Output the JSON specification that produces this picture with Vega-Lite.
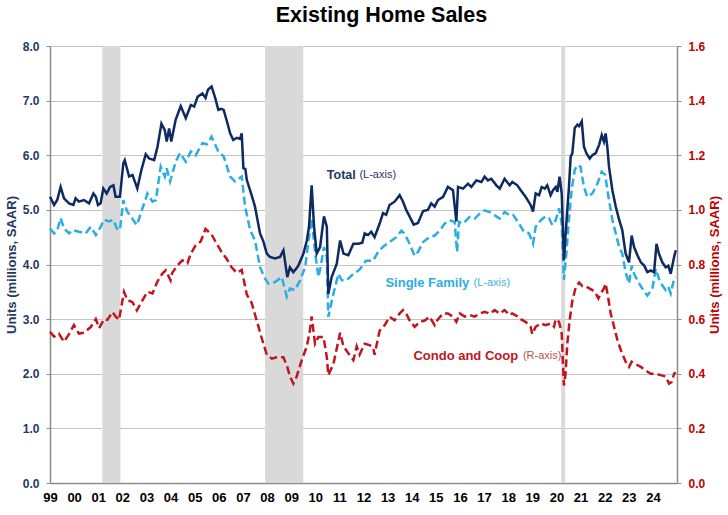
{
  "$schema": "https://vega.github.io/schema/vega-lite/v6.json",
  "autosize": {"type": "none"},
  "width": 627,
  "height": 437,
  "padding": {"left": 50, "top": 46, "right": 51, "bottom": 32},
  "background": "white",
  "config": {"font": "Liberation Sans", "view": {"stroke": null}},
  "title": {"text": "Existing Home Sales", "fontSize": 21.5, "fontWeight": "bold", "color": "#000000", "font": "Liberation Sans", "offset": 14, "dx": 18},
  "datasets": {
    "recessions": [
      {"t": 2001.17, "t2": 2001.92},
      {"t": 2007.92, "t2": 2009.5},
      {"t": 2020.2, "t2": 2020.36}
    ],
    "total": [
      {"t":1999.00,"v":5.24},{"t":1999.17,"v":5.09},{"t":1999.30,"v":5.18},{"t":1999.44,"v":5.42},{"t":1999.58,"v":5.21},{"t":1999.79,"v":5.12},{"t":1999.97,"v":5.09},
      {"t":2000.06,"v":5.21},{"t":2000.20,"v":5.15},{"t":2000.41,"v":5.18},{"t":2000.62,"v":5.12},{"t":2000.80,"v":5.30},{"t":2000.90,"v":5.24},{"t":2000.99,"v":5.09},
      {"t":2001.10,"v":5.12},{"t":2001.21,"v":5.39},{"t":2001.35,"v":5.30},{"t":2001.49,"v":5.42},{"t":2001.63,"v":5.45},{"t":2001.72,"v":5.24},{"t":2001.90,"v":5.24},
      {"t":2002.04,"v":5.85},{"t":2002.10,"v":5.91},{"t":2002.28,"v":5.61},{"t":2002.42,"v":5.64},{"t":2002.62,"v":5.39},{"t":2002.79,"v":5.73},{"t":2002.97,"v":6.02},
      {"t":2003.11,"v":5.94},{"t":2003.32,"v":5.91},{"t":2003.46,"v":6.16},{"t":2003.62,"v":6.58},{"t":2003.76,"v":6.46},{"t":2003.84,"v":6.25},{"t":2003.94,"v":6.49},
      {"t":2004.03,"v":6.25},{"t":2004.21,"v":6.65},{"t":2004.42,"v":6.90},{"t":2004.63,"v":6.68},{"t":2004.84,"v":6.92},{"t":2004.98,"v":6.89},
      {"t":2005.12,"v":7.07},{"t":2005.32,"v":7.13},{"t":2005.45,"v":7.05},{"t":2005.55,"v":7.20},{"t":2005.70,"v":7.26},{"t":2005.85,"v":7.05},{"t":2005.98,"v":6.83},
      {"t":2006.10,"v":6.85},{"t":2006.20,"v":6.83},{"t":2006.35,"v":6.60},{"t":2006.47,"v":6.40},{"t":2006.60,"v":6.28},{"t":2006.75,"v":6.32},{"t":2006.88,"v":6.30},{"t":2006.95,"v":6.40},
      {"t":2007.02,"v":5.76},{"t":2007.10,"v":5.75},{"t":2007.16,"v":5.55},{"t":2007.36,"v":5.27},{"t":2007.50,"v":5.06},{"t":2007.71,"v":4.57},{"t":2007.85,"v":4.42},{"t":2007.99,"v":4.20},
      {"t":2008.12,"v":4.14},{"t":2008.33,"v":4.11},{"t":2008.54,"v":4.14},{"t":2008.68,"v":4.26},{"t":2008.84,"v":3.77},{"t":2008.95,"v":3.95},
      {"t":2009.09,"v":3.86},{"t":2009.20,"v":3.92},{"t":2009.30,"v":3.98},{"t":2009.51,"v":4.20},{"t":2009.65,"v":4.44},{"t":2009.74,"v":4.69},{"t":2009.85,"v":5.45},{"t":2009.95,"v":4.69},
      {"t":2010.06,"v":4.20},{"t":2010.20,"v":4.32},{"t":2010.36,"v":4.88},{"t":2010.48,"v":4.69},{"t":2010.54,"v":3.46},{"t":2010.68,"v":3.77},{"t":2010.89,"v":4.01},
      {"t":2011.03,"v":4.44},{"t":2011.17,"v":4.20},{"t":2011.37,"v":4.17},{"t":2011.58,"v":4.38},{"t":2011.79,"v":4.38},{"t":2011.95,"v":4.40},
      {"t":2012.05,"v":4.57},{"t":2012.19,"v":4.54},{"t":2012.32,"v":4.60},{"t":2012.46,"v":4.50},{"t":2012.67,"v":4.75},{"t":2012.81,"v":4.94},{"t":2012.94,"v":4.91},
      {"t":2013.08,"v":5.09},{"t":2013.29,"v":5.15},{"t":2013.50,"v":5.27},{"t":2013.64,"v":5.15},{"t":2013.77,"v":5.00},{"t":2013.91,"v":4.88},
      {"t":2014.08,"v":4.73},{"t":2014.26,"v":4.76},{"t":2014.47,"v":4.98},{"t":2014.67,"v":5.00},{"t":2014.81,"v":5.12},{"t":2014.95,"v":5.06},
      {"t":2015.09,"v":5.18},{"t":2015.30,"v":5.24},{"t":2015.50,"v":5.42},{"t":2015.71,"v":5.36},{"t":2015.85,"v":4.79},{"t":2015.92,"v":5.42},
      {"t":2016.13,"v":5.39},{"t":2016.33,"v":5.48},{"t":2016.47,"v":5.42},{"t":2016.68,"v":5.54},{"t":2016.89,"v":5.51},
      {"t":2017.02,"v":5.61},{"t":2017.16,"v":5.54},{"t":2017.30,"v":5.57},{"t":2017.51,"v":5.45},{"t":2017.65,"v":5.39},{"t":2017.85,"v":5.57},
      {"t":2018.06,"v":5.45},{"t":2018.17,"v":5.51},{"t":2018.38,"v":5.45},{"t":2018.52,"v":5.36},{"t":2018.72,"v":5.24},{"t":2018.93,"v":5.09},
      {"t":2019.03,"v":4.97},{"t":2019.14,"v":5.30},{"t":2019.28,"v":5.27},{"t":2019.39,"v":5.42},{"t":2019.52,"v":5.39},{"t":2019.62,"v":5.45},{"t":2019.76,"v":5.27},{"t":2019.86,"v":5.36},{"t":2019.97,"v":5.42},
      {"t":2020.04,"v":5.33},{"t":2020.13,"v":5.61},{"t":2020.22,"v":5.30},{"t":2020.31,"v":4.08},{"t":2020.38,"v":4.55},{"t":2020.52,"v":5.42},{"t":2020.59,"v":5.97},{"t":2020.66,"v":6.04},{"t":2020.76,"v":6.50},{"t":2020.87,"v":6.56},{"t":2020.94,"v":6.53},
      {"t":2021.05,"v":6.62},{"t":2021.14,"v":6.16},{"t":2021.24,"v":6.04},{"t":2021.38,"v":5.94},{"t":2021.49,"v":6.00},{"t":2021.63,"v":6.04},{"t":2021.77,"v":6.19},{"t":2021.88,"v":6.37},{"t":2021.97,"v":6.25},
      {"t":2022.04,"v":6.40},{"t":2022.11,"v":6.16},{"t":2022.18,"v":5.79},{"t":2022.32,"v":5.36},{"t":2022.46,"v":5.06},{"t":2022.60,"v":4.82},{"t":2022.73,"v":4.63},{"t":2022.87,"v":4.20},
      {"t":2023.01,"v":4.04},{"t":2023.12,"v":4.53},{"t":2023.22,"v":4.32},{"t":2023.36,"v":4.17},{"t":2023.50,"v":4.04},{"t":2023.64,"v":3.98},{"t":2023.77,"v":3.86},{"t":2023.91,"v":3.89},
      {"t":2024.05,"v":3.86},{"t":2024.15,"v":4.38},{"t":2024.25,"v":4.20},{"t":2024.39,"v":4.04},{"t":2024.53,"v":3.95},{"t":2024.64,"v":3.98},{"t":2024.74,"v":3.83},{"t":2024.88,"v":4.14},{"t":2024.95,"v":4.26}
    ],
    "single": [
      {"t":1999.00,"v":4.66},{"t":1999.17,"v":4.57},{"t":1999.30,"v":4.62},{"t":1999.44,"v":4.85},{"t":1999.58,"v":4.66},{"t":1999.79,"v":4.57},{"t":1999.95,"v":4.63},
      {"t":2000.20,"v":4.60},{"t":2000.48,"v":4.57},{"t":2000.69,"v":4.69},{"t":2000.90,"v":4.54},
      {"t":2001.10,"v":4.69},{"t":2001.24,"v":4.82},{"t":2001.45,"v":4.79},{"t":2001.63,"v":4.82},{"t":2001.77,"v":4.66},{"t":2001.90,"v":4.63},
      {"t":2002.04,"v":5.18},{"t":2002.20,"v":4.97},{"t":2002.35,"v":4.88},{"t":2002.60,"v":4.72},{"t":2002.77,"v":4.94},
      {"t":2003.04,"v":5.30},{"t":2003.25,"v":5.15},{"t":2003.39,"v":5.18},{"t":2003.59,"v":5.79},{"t":2003.76,"v":5.61},{"t":2003.84,"v":5.76},{"t":2003.98,"v":5.52},
      {"t":2004.21,"v":5.88},{"t":2004.39,"v":6.04},{"t":2004.63,"v":5.88},{"t":2004.84,"v":6.07},
      {"t":2005.04,"v":6.00},{"t":2005.32,"v":6.22},{"t":2005.50,"v":6.20},{"t":2005.70,"v":6.34},{"t":2005.98,"v":6.07},
      {"t":2006.20,"v":5.98},{"t":2006.47,"v":5.61},{"t":2006.67,"v":5.52},{"t":2006.95,"v":5.61},
      {"t":2007.09,"v":5.06},{"t":2007.30,"v":4.63},{"t":2007.50,"v":4.44},{"t":2007.71,"v":3.95},{"t":2007.92,"v":3.74},
      {"t":2008.06,"v":3.65},{"t":2008.33,"v":3.68},{"t":2008.61,"v":3.77},{"t":2008.82,"v":3.41},{"t":2008.95,"v":3.56},
      {"t":2009.16,"v":3.53},{"t":2009.37,"v":3.71},{"t":2009.58,"v":3.95},{"t":2009.72,"v":4.44},{"t":2009.85,"v":4.84},{"t":2009.99,"v":4.23},
      {"t":2010.13,"v":3.77},{"t":2010.22,"v":3.95},{"t":2010.36,"v":4.32},{"t":2010.48,"v":4.14},{"t":2010.54,"v":3.04},{"t":2010.75,"v":3.46},{"t":2010.96,"v":3.83},
      {"t":2011.10,"v":3.71},{"t":2011.30,"v":3.71},{"t":2011.58,"v":3.83},{"t":2011.79,"v":3.89},{"t":2011.92,"v":3.95},
      {"t":2012.10,"v":4.07},{"t":2012.40,"v":4.07},{"t":2012.60,"v":4.23},{"t":2012.80,"v":4.32},
      {"t":2013.08,"v":4.41},{"t":2013.36,"v":4.50},{"t":2013.57,"v":4.62},{"t":2013.71,"v":4.56},{"t":2013.91,"v":4.38},
      {"t":2014.12,"v":4.16},{"t":2014.26,"v":4.23},{"t":2014.47,"v":4.41},{"t":2014.74,"v":4.50},{"t":2014.95,"v":4.53},
      {"t":2015.16,"v":4.62},{"t":2015.37,"v":4.75},{"t":2015.57,"v":4.81},{"t":2015.78,"v":4.78},{"t":2015.88,"v":4.23},{"t":2015.96,"v":4.78},
      {"t":2016.13,"v":4.75},{"t":2016.40,"v":4.87},{"t":2016.61,"v":4.84},{"t":2016.82,"v":4.93},
      {"t":2017.02,"v":4.99},{"t":2017.23,"v":4.96},{"t":2017.44,"v":4.90},{"t":2017.65,"v":4.84},{"t":2017.85,"v":4.96},
      {"t":2018.06,"v":4.90},{"t":2018.20,"v":4.91},{"t":2018.45,"v":4.75},{"t":2018.65,"v":4.60},{"t":2018.86,"v":4.57},
      {"t":2019.03,"v":4.38},{"t":2019.14,"v":4.69},{"t":2019.35,"v":4.81},{"t":2019.55,"v":4.88},{"t":2019.69,"v":4.85},{"t":2019.83,"v":4.72},{"t":2019.97,"v":4.81},
      {"t":2020.11,"v":5.03},{"t":2020.22,"v":4.75},{"t":2020.31,"v":3.72},{"t":2020.41,"v":4.20},{"t":2020.52,"v":4.82},{"t":2020.63,"v":5.36},{"t":2020.76,"v":5.73},{"t":2020.87,"v":5.82},
      {"t":2021.00,"v":5.79},{"t":2021.14,"v":5.42},{"t":2021.28,"v":5.24},{"t":2021.49,"v":5.30},{"t":2021.70,"v":5.48},{"t":2021.88,"v":5.70},
      {"t":2022.02,"v":5.64},{"t":2022.18,"v":5.18},{"t":2022.32,"v":4.82},{"t":2022.46,"v":4.57},{"t":2022.60,"v":4.32},{"t":2022.73,"v":4.20},{"t":2022.87,"v":3.86},
      {"t":2023.01,"v":3.65},{"t":2023.12,"v":3.98},{"t":2023.22,"v":3.83},{"t":2023.36,"v":3.71},{"t":2023.56,"v":3.56},{"t":2023.77,"v":3.43},{"t":2023.98,"v":3.56},
      {"t":2024.12,"v":3.92},{"t":2024.25,"v":3.74},{"t":2024.39,"v":3.62},{"t":2024.53,"v":3.53},{"t":2024.64,"v":3.59},{"t":2024.74,"v":3.47},{"t":2024.88,"v":3.74},{"t":2024.95,"v":3.77}
    ],
    "condo": [
      {"t":1999.00,"v":0.554},{"t":1999.17,"v":0.536},{"t":1999.37,"v":0.547},{"t":1999.58,"v":0.517},{"t":1999.79,"v":0.545},{"t":1999.99,"v":0.578},
      {"t":2000.20,"v":0.547},{"t":2000.41,"v":0.550},{"t":2000.69,"v":0.571},{"t":2000.90,"v":0.600},
      {"t":2001.04,"v":0.567},{"t":2001.24,"v":0.600},{"t":2001.38,"v":0.597},{"t":2001.59,"v":0.626},{"t":2001.72,"v":0.610},{"t":2001.86,"v":0.597},
      {"t":2002.07,"v":0.700},{"t":2002.21,"v":0.670},{"t":2002.42,"v":0.662},{"t":2002.60,"v":0.632},{"t":2002.84,"v":0.670},
      {"t":2003.04,"v":0.700},{"t":2003.25,"v":0.694},{"t":2003.45,"v":0.737},{"t":2003.66,"v":0.767},{"t":2003.80,"v":0.779},
      {"t":2004.00,"v":0.742},{"t":2004.07,"v":0.770},{"t":2004.28,"v":0.796},{"t":2004.49,"v":0.815},{"t":2004.70,"v":0.805},{"t":2004.84,"v":0.840},
      {"t":2005.04,"v":0.870},{"t":2005.25,"v":0.884},{"t":2005.45,"v":0.930},{"t":2005.70,"v":0.910},{"t":2005.90,"v":0.878},
      {"t":2006.12,"v":0.845},{"t":2006.33,"v":0.820},{"t":2006.53,"v":0.790},{"t":2006.74,"v":0.770},{"t":2006.95,"v":0.780},
      {"t":2007.16,"v":0.690},{"t":2007.36,"v":0.660},{"t":2007.57,"v":0.595},{"t":2007.78,"v":0.530},{"t":2007.99,"v":0.470},
      {"t":2008.20,"v":0.455},{"t":2008.40,"v":0.460},{"t":2008.68,"v":0.460},{"t":2008.84,"v":0.425},{"t":2008.95,"v":0.390},
      {"t":2009.09,"v":0.364},{"t":2009.23,"v":0.390},{"t":2009.44,"v":0.450},{"t":2009.65,"v":0.500},{"t":2009.78,"v":0.560},{"t":2009.85,"v":0.610},{"t":2009.99,"v":0.510},
      {"t":2010.13,"v":0.535},{"t":2010.34,"v":0.535},{"t":2010.48,"v":0.460},{"t":2010.54,"v":0.395},{"t":2010.75,"v":0.435},
      {"t":2011.03,"v":0.550},{"t":2011.17,"v":0.500},{"t":2011.37,"v":0.475},{"t":2011.58,"v":0.450},{"t":2011.72,"v":0.500},{"t":2011.84,"v":0.470},
      {"t":2012.05,"v":0.510},{"t":2012.25,"v":0.505},{"t":2012.39,"v":0.498},{"t":2012.46,"v":0.470},{"t":2012.67,"v":0.558},{"t":2012.88,"v":0.578},
      {"t":2013.08,"v":0.609},{"t":2013.29,"v":0.596},{"t":2013.50,"v":0.621},{"t":2013.64,"v":0.633},{"t":2013.77,"v":0.620},{"t":2013.91,"v":0.596},
      {"t":2014.12,"v":0.572},{"t":2014.33,"v":0.590},{"t":2014.54,"v":0.595},{"t":2014.74,"v":0.609},{"t":2014.95,"v":0.578},
      {"t":2015.09,"v":0.600},{"t":2015.30,"v":0.621},{"t":2015.50,"v":0.621},{"t":2015.71,"v":0.609},{"t":2015.85,"v":0.590},{"t":2015.99,"v":0.621},
      {"t":2016.20,"v":0.609},{"t":2016.40,"v":0.615},{"t":2016.61,"v":0.609},{"t":2016.82,"v":0.620},
      {"t":2017.02,"v":0.627},{"t":2017.23,"v":0.620},{"t":2017.44,"v":0.633},{"t":2017.65,"v":0.620},{"t":2017.85,"v":0.633},
      {"t":2018.06,"v":0.615},{"t":2018.17,"v":0.621},{"t":2018.38,"v":0.610},{"t":2018.52,"v":0.600},{"t":2018.72,"v":0.590},{"t":2018.93,"v":0.572},
      {"t":2019.00,"v":0.545},{"t":2019.14,"v":0.572},{"t":2019.35,"v":0.584},{"t":2019.55,"v":0.578},{"t":2019.76,"v":0.584},{"t":2019.90,"v":0.572},{"t":2019.97,"v":0.600},
      {"t":2020.11,"v":0.590},{"t":2020.22,"v":0.547},{"t":2020.31,"v":0.357},{"t":2020.38,"v":0.400},{"t":2020.45,"v":0.510},{"t":2020.55,"v":0.597},{"t":2020.66,"v":0.667},{"t":2020.80,"v":0.716},{"t":2020.94,"v":0.734},
      {"t":2021.08,"v":0.720},{"t":2021.22,"v":0.720},{"t":2021.42,"v":0.710},{"t":2021.60,"v":0.700},{"t":2021.74,"v":0.676},{"t":2021.84,"v":0.694},{"t":2021.97,"v":0.712},
      {"t":2022.04,"v":0.730},{"t":2022.14,"v":0.682},{"t":2022.25,"v":0.621},{"t":2022.39,"v":0.572},{"t":2022.53,"v":0.523},{"t":2022.67,"v":0.487},{"t":2022.87,"v":0.444},
      {"t":2023.01,"v":0.425},{"t":2023.12,"v":0.444},{"t":2023.29,"v":0.435},{"t":2023.50,"v":0.425},{"t":2023.70,"v":0.412},{"t":2023.91,"v":0.400},
      {"t":2024.12,"v":0.400},{"t":2024.32,"v":0.395},{"t":2024.53,"v":0.390},{"t":2024.67,"v":0.364},{"t":2024.78,"v":0.370},{"t":2024.88,"v":0.400},{"t":2024.95,"v":0.405}
    ],
    "labels": [
      {"id": "total", "text": "Total", "t": 2010.48, "v": 5.64},
      {"id": "total_axis", "text": "(L-axis)", "t": 2011.83, "v": 5.64},
      {"id": "single", "text": "Single Family", "t": 2012.91, "v": 3.67},
      {"id": "single_axis", "text": "(L-axis)", "t": 2016.56, "v": 3.67},
      {"id": "condo", "text": "Condo and Coop", "t": 2014.07, "v": 2.33},
      {"id": "condo_axis", "text": "(R-axis)", "t": 2018.61, "v": 2.33}
    ]
  },
  "encoding": {
    "x": {
      "field": "t", "type": "quantitative",
      "scale": {"domain": [1999, 2025], "nice": false, "zero": false},
      "axis": {
        "values": [1999,2000,2001,2002,2003,2004,2005,2006,2007,2008,2009,2010,2011,2012,2013,2014,2015,2016,2017,2018,2019,2020,2021,2022,2023,2024],
        "labelExpr": "slice(toString(datum.value), 2)",
        "title": null, "grid": false, "ticks": false,
        "domainColor": "#8C8C8C", "domainWidth": 1.5,
        "labelFontSize": 13, "labelFontWeight": "bold", "labelColor": "#000000",
        "labelPadding": 8, "labelFlush": false, "labelOverlap": false
      }
    }
  },
  "layer": [
    {
      "data": {"name": "recessions"},
      "mark": {"type": "rect", "color": "#D9D9D9"},
      "encoding": {"x2": {"field": "t2"}}
    },
    {
      "encoding": {
        "y": {
          "field": "v", "type": "quantitative",
          "scale": {"domain": [0, 8], "nice": false},
          "axis": {
            "values": [0,1,2,3,4,5,6,7,8], "format": ".1f",
            "title": "Units (millions, SAAR)", "titleFontSize": 13, "titleFontWeight": "bold", "titleColor": "#1F3864", "titlePadding": 4,
            "labelFontSize": 12, "labelFontWeight": "bold", "labelColor": "#1F3864", "labelPadding": 7,
            "tickSize": 4, "tickColor": "#8C8C8C", "domainColor": "#8C8C8C", "domainWidth": 1.5,
            "grid": true, "gridColor": "#C4C4C4", "gridWidth": 1
          }
        }
      },
      "layer": [
        {
          "data": {"name": "single"},
          "mark": {"type": "line", "color": "#2AAEE2", "strokeWidth": 2.5, "strokeDash": [8, 4]}
        },
        {
          "data": {"name": "total"},
          "mark": {"type": "line", "color": "#0D2A62", "strokeWidth": 2.5}
        },
        {
          "data": {"name": "labels"},
          "transform": [{"filter": "datum.id == 'total'"}],
          "mark": {"type": "text", "align": "left", "baseline": "middle", "fontSize": 12.5, "fontWeight": "bold", "color": "#1F3864"},
          "encoding": {"text": {"field": "text"}}
        },
        {
          "data": {"name": "labels"},
          "transform": [{"filter": "datum.id == 'total_axis'"}],
          "mark": {"type": "text", "align": "left", "baseline": "middle", "fontSize": 11, "color": "#1F3864"},
          "encoding": {"text": {"field": "text"}}
        },
        {
          "data": {"name": "labels"},
          "transform": [{"filter": "datum.id == 'single'"}],
          "mark": {"type": "text", "align": "left", "baseline": "middle", "fontSize": 13, "fontWeight": "bold", "color": "#2AAEE2"},
          "encoding": {"text": {"field": "text"}}
        },
        {
          "data": {"name": "labels"},
          "transform": [{"filter": "datum.id == 'single_axis'"}],
          "mark": {"type": "text", "align": "left", "baseline": "middle", "fontSize": 11, "color": "#3FB3E0"},
          "encoding": {"text": {"field": "text"}}
        },
        {
          "data": {"name": "labels"},
          "transform": [{"filter": "datum.id == 'condo'"}],
          "mark": {"type": "text", "align": "left", "baseline": "middle", "fontSize": 13, "fontWeight": "bold", "color": "#C0161E"},
          "encoding": {"text": {"field": "text"}}
        },
        {
          "data": {"name": "labels"},
          "transform": [{"filter": "datum.id == 'condo_axis'"}],
          "mark": {"type": "text", "align": "left", "baseline": "middle", "fontSize": 11, "color": "#C0504D"},
          "encoding": {"text": {"field": "text"}}
        }
      ]
    },
    {
      "data": {"name": "condo"},
      "mark": {"type": "line", "color": "#C0161E", "strokeWidth": 2.5, "strokeDash": [8, 4]},
      "encoding": {
        "y": {
          "field": "v", "type": "quantitative",
          "scale": {"domain": [0, 1.6], "nice": false},
          "axis": {
            "orient": "right",
            "values": [0,0.2,0.4,0.6,0.8,1.0,1.2,1.4,1.6], "format": ".1f",
            "title": "Units (millions, SAAR)", "titleFontSize": 13, "titleFontWeight": "bold", "titleColor": "#C00000", "titlePadding": 4,
            "titleAngle": 270, "titleBaseline": "top",
            "labelFontSize": 12, "labelFontWeight": "bold", "labelColor": "#C00000", "labelPadding": 7,
            "tickSize": 4, "tickColor": "#8C8C8C", "domainColor": "#8C8C8C", "domainWidth": 1.5,
            "grid": false
          }
        }
      }
    }
  ],
  "resolve": {"scale": {"y": "independent"}}
}
